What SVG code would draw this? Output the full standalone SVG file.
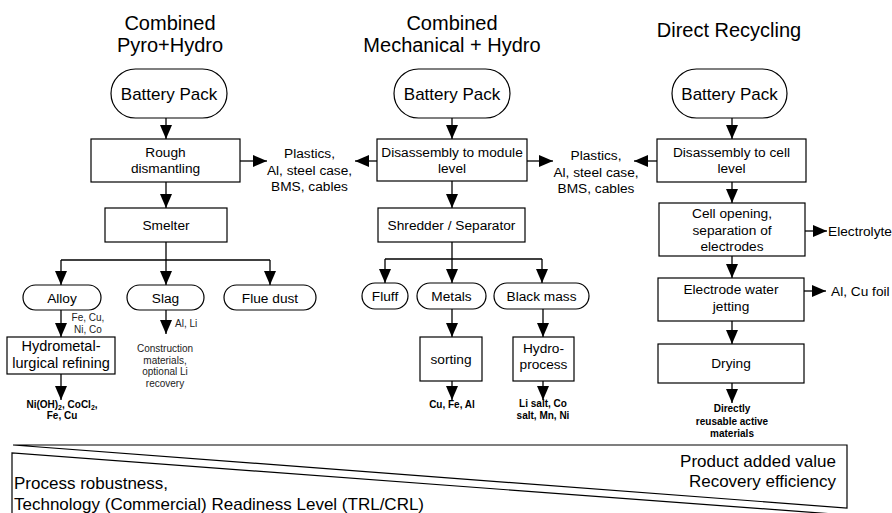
<svg xmlns="http://www.w3.org/2000/svg" width="892" height="513" viewBox="0 0 892 513">
<style>
text{font-family:"Liberation Sans",Arial,sans-serif;fill:#000}
.h{font-size:20px;text-anchor:middle}
.bp{font-size:17px;text-anchor:middle}
.p{font-size:13.7px;text-anchor:middle}
.p2{font-size:14.5px;text-anchor:middle}
.s{font-size:10px;fill:#222}
.sc{font-size:10px;fill:#222;text-anchor:middle}
.b{font-size:10px;font-weight:bold;text-anchor:middle}
.w{font-size:17px}
.box{fill:#fff;stroke:#000;stroke-width:1.2}
.ln{fill:none;stroke:#000;stroke-width:1.3}
.ar{fill:none;stroke:#000;stroke-width:1.3;marker-end:url(#ah)}
</style>
<defs>
<marker id="ah" markerUnits="userSpaceOnUse" markerWidth="14" markerHeight="12" refX="14" refY="6" orient="auto">
<path d="M0,0 L14,6 L0,12 z" fill="#000"/>
</marker>
</defs>
<rect width="892" height="513" fill="#fff"/>

<g id="titles">
<text class="h" x="170" y="30">Combined</text>
<text class="h" x="170" y="52">Pyro+Hydro</text>
<text class="h" x="452" y="30">Combined</text>
<text class="h" x="452" y="52">Mechanical + Hydro</text>
<text class="h" x="729" y="37">Direct Recycling</text>
</g>

<g id="connectors">
<!-- left column -->
<line class="ar" x1="166" y1="118" x2="166" y2="139"/>
<line class="ar" x1="240" y1="161" x2="267" y2="161"/>
<line class="ar" x1="166" y1="182" x2="166" y2="208"/>
<polyline class="ln" points="166,242 166,260"/>
<line class="ln" x1="61" y1="260" x2="270" y2="260"/>
<line class="ar" x1="61" y1="260" x2="61" y2="285"/>
<line class="ar" x1="166" y1="260" x2="166" y2="285"/>
<line class="ar" x1="270" y1="260" x2="270" y2="285"/>
<line class="ar" x1="61" y1="310" x2="61" y2="337"/>
<line class="ar" x1="166" y1="310" x2="166" y2="334"/>
<line class="ar" x1="61" y1="374" x2="61" y2="400"/>
<!-- middle column -->
<line class="ar" x1="452" y1="118" x2="452" y2="139"/>
<line class="ar" x1="377" y1="161" x2="355" y2="161"/>
<line class="ar" x1="527" y1="161" x2="553" y2="161"/>
<line class="ar" x1="452" y1="181" x2="452" y2="208"/>
<line class="ln" x1="452" y1="242" x2="452" y2="259"/>
<line class="ln" x1="385" y1="259" x2="542" y2="259"/>
<line class="ar" x1="385" y1="259" x2="385" y2="283"/>
<line class="ar" x1="452" y1="259" x2="452" y2="283"/>
<line class="ar" x1="542" y1="259" x2="542" y2="283"/>
<line class="ar" x1="452" y1="309" x2="452" y2="337"/>
<line class="ar" x1="543" y1="309" x2="543" y2="337"/>
<line class="ar" x1="452" y1="381" x2="452" y2="400"/>
<line class="ar" x1="543" y1="381" x2="543" y2="400"/>
<!-- right column -->
<line class="ar" x1="732" y1="118" x2="732" y2="139"/>
<line class="ar" x1="657" y1="161" x2="634" y2="161"/>
<line class="ar" x1="732" y1="182" x2="732" y2="203"/>
<line class="ar" x1="805" y1="231" x2="827" y2="231"/>
<line class="ar" x1="732" y1="256" x2="732" y2="278"/>
<line class="ar" x1="804" y1="291" x2="826" y2="291"/>
<line class="ar" x1="732" y1="321" x2="732" y2="344"/>
<line class="ar" x1="732" y1="383" x2="732" y2="403"/>
</g>

<g id="bp-left"><rect class="box" x="111" y="69" width="116" height="49" rx="24.5"/><text class="bp" x="169" y="99.5">Battery Pack</text></g>
<g id="rough"><rect class="box" x="91" y="139" width="149" height="43"/><text class="p" x="165.5" y="156.5">Rough</text><text class="p" x="165.5" y="172.5">dismantling</text></g>
<g id="plastics-left"><text class="p" x="309.5" y="158">Plastics,</text><text class="p" x="309.5" y="174.5">Al, steel case,</text><text class="p" x="309.5" y="191">BMS, cables</text></g>
<g id="smelter"><rect class="box" x="105" y="208" width="122" height="34"/><text class="p" x="166" y="230">Smelter</text></g>
<g id="alloy"><rect class="box" x="23" y="285" width="78" height="25" rx="12.5"/><text class="p" x="62" y="302.5">Alloy</text></g>
<g id="slag"><rect class="box" x="127" y="285" width="77" height="25" rx="12.5"/><text class="p" x="165.5" y="302.5">Slag</text></g>
<g id="fluedust"><rect class="box" x="224" y="285" width="92" height="25" rx="12.5"/><text class="p" x="270" y="302.5">Flue dust</text></g>
<g id="fecu"><text class="sc" x="88" y="321">Fe, Cu,</text><text class="sc" x="88" y="333">Ni, Co</text></g>
<g id="alli"><text class="s" x="175" y="327">Al, Li</text></g>
<g id="hydromet"><rect class="box" x="7" y="337" width="108" height="37"/><text class="p2" x="61" y="351">Hydrometal-</text><text class="p2" x="61" y="368">lurgical refining</text></g>
<g id="construction"><text class="sc" x="165" y="352">Construction</text><text class="sc" x="165" y="363.5">materials,</text><text class="sc" x="165" y="375">optional Li</text><text class="sc" x="165" y="386.5">recovery</text></g>
<g id="out-left"><text class="b" x="62" y="408">Ni(OH)<tspan font-size="7" dy="2">2</tspan><tspan dy="-2">, CoCl</tspan><tspan font-size="7" dy="2">2</tspan><tspan dy="-2">,</tspan></text><text class="b" x="62" y="419">Fe, Cu</text></g>

<g id="bp-mid"><rect class="box" x="394" y="69" width="116" height="49" rx="24.5"/><text class="bp" x="452" y="99.5">Battery Pack</text></g>
<g id="dis-module"><rect class="box" x="377" y="139" width="150" height="42"/><text class="p" x="452" y="156.5">Disassembly to module</text><text class="p" x="452" y="172.5">level</text></g>
<g id="plastics-mid"><text class="p" x="596" y="160">Plastics,</text><text class="p" x="596" y="176.5">Al, steel case,</text><text class="p" x="596" y="193">BMS, cables</text></g>
<g id="shredder"><rect class="box" x="378" y="208" width="147" height="34"/><text class="p" x="451.5" y="230">Shredder / Separator</text></g>
<g id="fluff"><rect class="box" x="362" y="283" width="46" height="26" rx="13"/><text class="p" x="385" y="301">Fluff</text></g>
<g id="metals"><rect class="box" x="417" y="283" width="69" height="26" rx="13"/><text class="p" x="451.5" y="301">Metals</text></g>
<g id="blackmass"><rect class="box" x="494" y="283" width="95" height="26" rx="13"/><text class="p" x="541.5" y="301">Black mass</text></g>
<g id="sorting"><rect class="box" x="420" y="337" width="62" height="44"/><text class="p" x="451" y="363.5">sorting</text></g>
<g id="hydroproc"><rect class="box" x="513" y="337" width="61" height="44"/><text class="p" x="543.5" y="353">Hydro-</text><text class="p" x="543.5" y="369">process</text></g>
<g id="out-metals"><text class="b" x="452" y="408">Cu, Fe, Al</text></g>
<g id="out-hydro"><text class="b" x="543" y="407">Li salt, Co</text><text class="b" x="543" y="418.5">salt, Mn, Ni</text></g>

<g id="bp-right"><rect class="box" x="672" y="69" width="115" height="49" rx="24.5"/><text class="bp" x="729.5" y="99.5">Battery Pack</text></g>
<g id="dis-cell"><rect class="box" x="657" y="139" width="149" height="43"/><text class="p" x="731.5" y="156.5">Disassembly to cell</text><text class="p" x="731.5" y="172.5">level</text></g>
<g id="cellopen"><rect class="box" x="659" y="203" width="146" height="53"/><text class="p" x="732" y="218">Cell opening,</text><text class="p" x="732" y="234.5">separation of</text><text class="p" x="732" y="251">electrodes</text></g>
<g id="electrolyte"><text class="p" x="828" y="236" text-anchor="start" style="text-anchor:start">Electrolyte</text></g>
<g id="jetting"><rect class="box" x="658" y="278" width="146" height="43"/><text class="p" x="731" y="294">Electrode water</text><text class="p" x="731" y="311">jetting</text></g>
<g id="alcufoil"><text class="p" x="831" y="296" style="text-anchor:start">Al, Cu foil</text></g>
<g id="drying"><rect class="box" x="658" y="344" width="146" height="39"/><text class="p" x="731" y="368">Drying</text></g>
<g id="out-direct"><text class="b" x="732" y="412">Directly</text><text class="b" x="732" y="424.5">reusable active</text><text class="b" x="732" y="437">materials</text></g>

<g id="wedges">
<polygon points="13,445 847,445 847,508" fill="none" stroke="#000" stroke-width="1.2"/>
<polyline points="12,515 12,453 847,515" fill="none" stroke="#000" stroke-width="1.2"/>
<text class="w" x="836" y="467" text-anchor="end">Product added value</text>
<text class="w" x="836" y="487" text-anchor="end">Recovery efficiency</text>
<text class="w" x="14" y="489">Process robustness,</text>
<text class="w" x="14" y="510">Technology (Commercial) Readiness Level (TRL/CRL)</text>
</g>
</svg>
